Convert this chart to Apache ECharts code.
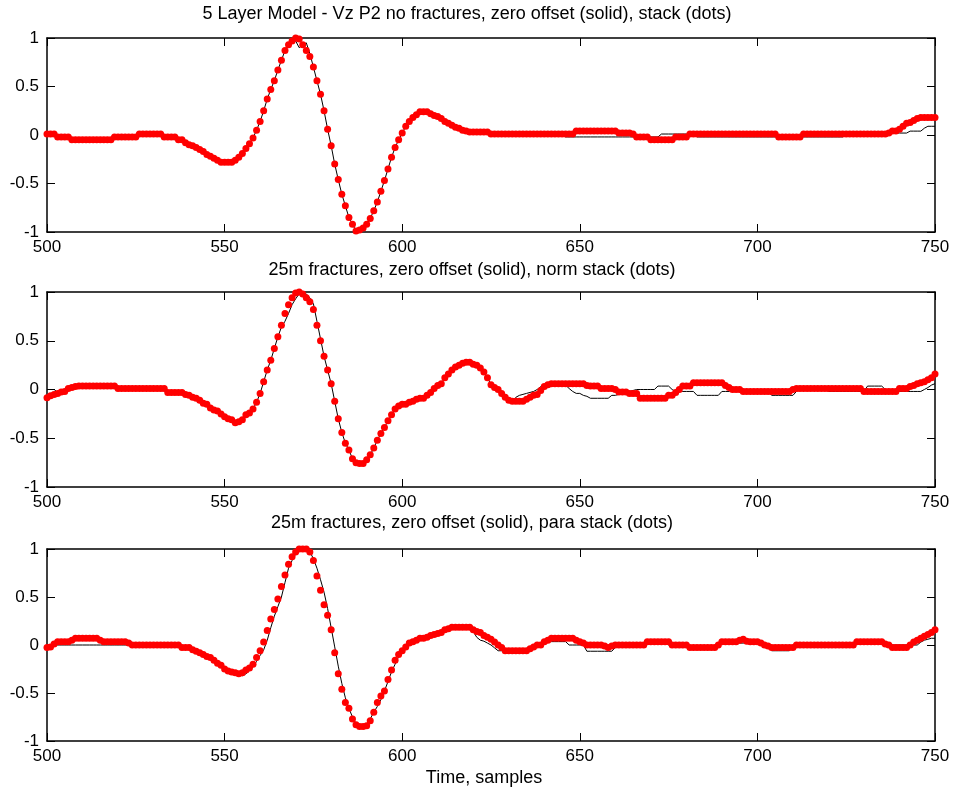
<!DOCTYPE html>
<html>
<head>
<meta charset="utf-8">
<script src="https://cdn.jsdelivr.net/npm/echarts@6/dist/echarts.min.js"></script>
<style>html,body{margin:0;padding:0;background:#fff}#c{width:956px;height:794px}</style>
</head>
<body>
<div id="c"></div>
<script>
// Sample indices 500..750 (x axis)
const samples = [];
for (let s = 500; s <= 750; s++) samples.push(s);

const titles = [
  "5 Layer Model - Vz P2 no fractures, zero offset (solid), stack (dots)",
  "25m fractures, zero offset (solid), norm stack (dots)",
  "25m fractures, zero offset (solid), para stack (dots)"
];
const xLabel = "Time, samples";
const xTicks = [500, 550, 600, 650, 700, 750];
const yTicks = [-1, -0.5, 0, 0.5, 1];

// Panel 1: zero offset (solid)
const zero1 = [
0.01,0.01,0.01,-0.02,-0.02,-0.02,-0.02,-0.05,-0.05,-0.05,
-0.05,-0.05,-0.05,-0.05,-0.05,-0.05,-0.05,-0.05,-0.05,-0.02,
-0.02,-0.02,-0.02,-0.02,-0.02,-0.02,0.01,0.01,0.01,0.01,
0.01,0.01,0.01,-0.02,-0.02,-0.02,-0.02,-0.05,-0.05,-0.08,
-0.1,-0.11,-0.13,-0.15,-0.17,-0.2,-0.22,-0.24,-0.26,-0.28,
-0.28,-0.28,-0.28,-0.26,-0.23,-0.19,-0.14,-0.09,-0.03,0.05,
0.14,0.25,0.37,0.47,0.56,0.67,0.77,0.87,0.93,0.98,
0.97,0.9,0.93,0.95,0.84,0.7,0.56,0.42,0.25,0.06,
-0.11,-0.3,-0.46,-0.61,-0.73,-0.85,-0.92,-0.99,-0.98,-0.96,
-0.92,-0.86,-0.78,-0.69,-0.58,-0.47,-0.35,-0.23,-0.13,-0.05,
0.02,0.09,0.14,0.18,0.21,0.24,0.24,0.24,0.22,0.2,
0.19,0.17,0.14,0.12,0.1,0.08,0.07,0.05,0.04,0.03,
0.03,0.03,0.03,0.03,0.03,0.01,0.01,0.01,0.01,0.01,
0.01,0.01,0.01,0.01,0.01,0.01,0.01,0.01,0.01,0.01,
0.01,0.01,0.01,0.01,0.01,0.01,-0.02,-0.02,-0.02,-0.02,
-0.02,-0.02,-0.02,-0.02,-0.02,-0.02,-0.02,-0.02,-0.02,-0.02,
-0.02,-0.02,-0.02,-0.02,-0.02,-0.02,-0.02,-0.02,-0.02,-0.02,
-0.02,-0.02,-0.02,0.01,0.01,0.01,0.01,0.01,0.01,0.01,
0.01,0.01,0.01,-0.02,-0.02,-0.02,-0.02,-0.02,-0.02,-0.02,
-0.02,-0.02,-0.02,-0.02,-0.02,-0.02,-0.02,-0.02,-0.02,-0.02,
-0.02,-0.02,-0.02,-0.02,-0.02,-0.02,-0.02,-0.02,-0.02,-0.02,
-0.02,-0.02,-0.02,-0.02,-0.02,-0.02,-0.02,-0.02,-0.02,-0.02,
-0.02,-0.02,-0.02,-0.02,-0.02,0.01,0.01,0.01,0.01,0.01,
0.01,0.01,0.01,0.01,0.01,0.01,0.01,0.01,0.02,0.02,
0.02,0.02,0.02,0.04,0.04,0.04,0.04,0.07,0.09,0.09,
0.09
];
// Panel 1: stack (dots)
const stack1 = [
0.01,0.01,0.01,-0.02,-0.02,-0.02,-0.02,-0.05,-0.05,-0.05,
-0.05,-0.05,-0.05,-0.05,-0.05,-0.05,-0.05,-0.05,-0.05,-0.02,
-0.02,-0.02,-0.02,-0.02,-0.02,-0.02,0.01,0.01,0.01,0.01,
0.01,0.01,0.01,-0.02,-0.02,-0.02,-0.02,-0.05,-0.05,-0.08,
-0.1,-0.11,-0.13,-0.15,-0.17,-0.2,-0.22,-0.24,-0.26,-0.28,
-0.28,-0.28,-0.28,-0.26,-0.23,-0.19,-0.14,-0.09,-0.03,0.05,
0.14,0.25,0.37,0.47,0.56,0.67,0.77,0.87,0.93,0.97,
1.0,0.99,0.93,0.87,0.81,0.7,0.56,0.42,0.25,0.06,
-0.11,-0.3,-0.46,-0.61,-0.73,-0.85,-0.92,-0.99,-0.98,-0.96,
-0.92,-0.86,-0.78,-0.69,-0.58,-0.47,-0.35,-0.23,-0.13,-0.05,
0.02,0.09,0.14,0.18,0.21,0.24,0.24,0.24,0.22,0.2,
0.19,0.17,0.14,0.12,0.1,0.08,0.07,0.05,0.04,0.03,
0.03,0.03,0.03,0.03,0.03,0.01,0.01,0.01,0.01,0.01,
0.01,0.01,0.01,0.01,0.01,0.01,0.01,0.01,0.01,0.01,
0.01,0.01,0.01,0.01,0.01,0.01,0.01,0.01,0.01,0.04,
0.04,0.04,0.04,0.04,0.04,0.04,0.04,0.04,0.04,0.04,
0.04,0.02,0.02,0.02,0.02,0.01,-0.02,-0.02,-0.02,-0.02,
-0.05,-0.05,-0.05,-0.05,-0.05,-0.05,-0.05,-0.02,-0.02,-0.02,
-0.02,0.01,0.01,0.01,0.01,0.01,0.01,0.01,0.01,0.01,
0.01,0.01,0.01,0.01,0.01,0.01,0.01,0.01,0.01,0.01,
0.01,0.01,0.01,0.01,0.01,0.01,-0.02,-0.02,-0.02,-0.02,
-0.02,-0.02,-0.02,0.01,0.01,0.01,0.01,0.01,0.01,0.01,
0.01,0.01,0.01,0.01,0.01,0.01,0.01,0.01,0.01,0.01,
0.01,0.01,0.01,0.01,0.01,0.01,0.01,0.02,0.04,0.04,
0.06,0.09,0.12,0.13,0.15,0.17,0.18,0.18,0.18,0.18,
0.18
];
// Panel 2: zero offset (solid)
const zero2 = [
0,0,0,-0.03,-0.025,-0.02,0.01,0.02,0.03,0.035,
0.035,0.035,0.035,0.035,0.035,0.035,0.035,0.035,0.035,0.035,
0.01,0.01,0.01,0.01,0.01,0.01,0.01,0.01,0.01,0.01,
0.01,0.01,0.01,0.01,-0.03,-0.03,-0.03,-0.03,-0.03,-0.05,
-0.06,-0.08,-0.09,-0.11,-0.14,-0.15,-0.19,-0.21,-0.22,-0.25,
-0.28,-0.3,-0.31,-0.34,-0.33,-0.31,-0.26,-0.24,-0.2,-0.13,
-0.04,0.08,0.2,0.3,0.42,0.54,0.64,0.7,0.78,0.87,
0.93,0.98,1.0,0.98,0.94,0.88,0.7,0.52,0.34,0.2,
0.06,-0.12,-0.3,-0.44,-0.55,-0.62,-0.71,-0.75,-0.76,-0.76,
-0.72,-0.67,-0.6,-0.52,-0.45,-0.39,-0.32,-0.26,-0.2,-0.17,
-0.15,-0.15,-0.13,-0.12,-0.1,-0.09,-0.09,-0.06,-0.03,0.01,
0.04,0.06,0.12,0.16,0.2,0.23,0.25,0.27,0.28,0.28,
0.26,0.25,0.22,0.18,0.12,0.05,0.02,-0.02,-0.05,-0.08,
-0.1,-0.12,-0.08,-0.06,-0.05,-0.04,-0.03,-0.02,0.0,0.03,
0.04,0.045,0.045,0.045,0.045,0.045,0.045,0.01,-0.02,-0.04,
-0.04,-0.06,-0.07,-0.09,-0.09,-0.09,-0.09,-0.09,-0.09,-0.06,
-0.06,-0.05,-0.04,-0.03,-0.02,-0.01,0.0,0.0,0.0,0.0,
0.0,0.0,0.035,0.035,0.035,0.035,0.0,-0.02,-0.02,-0.02,
-0.02,-0.02,-0.02,-0.06,-0.06,-0.06,-0.06,-0.06,-0.06,-0.06,
-0.02,-0.02,-0.02,0.0,0.0,0.0,0.0,0.0,0.0,0.0,
0.0,-0.02,-0.02,-0.02,-0.06,-0.06,-0.06,-0.06,-0.06,-0.06,
-0.06,-0.02,0.0,0.0,0.0,0.0,0.0,0.0,0.0,0.0,
-0.02,-0.02,-0.02,-0.02,-0.02,-0.02,-0.02,-0.02,-0.02,-0.02,
-0.02,0.035,0.035,0.035,0.035,0.035,0.0,-0.02,-0.02,-0.02,
-0.02,-0.02,-0.02,-0.02,-0.02,-0.02,-0.02,0.0,0.02,0.045,
0.06
];
// Panel 2: norm stack (dots)
const stack2 = [
-0.085,-0.065,-0.05,-0.04,-0.025,-0.02,0.01,0.02,0.03,0.035,
0.035,0.035,0.035,0.035,0.035,0.035,0.035,0.035,0.035,0.035,
0.01,0.01,0.01,0.01,0.01,0.01,0.01,0.01,0.01,0.01,
0.01,0.01,0.01,0.01,-0.03,-0.03,-0.03,-0.03,-0.03,-0.05,
-0.06,-0.08,-0.09,-0.11,-0.14,-0.15,-0.19,-0.21,-0.22,-0.25,
-0.28,-0.3,-0.31,-0.34,-0.33,-0.31,-0.26,-0.24,-0.2,-0.13,
-0.04,0.08,0.2,0.3,0.42,0.54,0.66,0.78,0.87,0.94,
0.99,1.0,0.98,0.94,0.9,0.82,0.66,0.5,0.34,0.2,
0.06,-0.12,-0.3,-0.44,-0.55,-0.62,-0.71,-0.75,-0.76,-0.76,
-0.72,-0.67,-0.6,-0.52,-0.45,-0.39,-0.32,-0.26,-0.2,-0.17,
-0.15,-0.15,-0.13,-0.12,-0.1,-0.09,-0.09,-0.06,-0.03,0.01,
0.04,0.06,0.12,0.16,0.2,0.23,0.25,0.27,0.28,0.28,
0.26,0.25,0.22,0.18,0.12,0.05,0.02,0.0,-0.04,-0.08,
-0.11,-0.12,-0.12,-0.12,-0.12,-0.1,-0.08,-0.06,-0.05,-0.01,
0.03,0.05,0.06,0.06,0.06,0.06,0.06,0.06,0.06,0.06,
0.06,0.06,0.04,0.035,0.035,0.035,0.01,0.01,0.01,0.01,
0.0,-0.025,-0.025,-0.025,-0.04,-0.04,-0.04,-0.09,-0.09,-0.09,
-0.09,-0.09,-0.09,-0.09,-0.09,-0.06,-0.06,-0.03,0.0,0.035,
0.035,0.035,0.07,0.07,0.07,0.07,0.07,0.07,0.07,0.07,
0.07,0.04,0.02,0.0,0.0,0.0,-0.02,-0.02,-0.02,-0.02,
-0.02,-0.02,-0.02,-0.02,-0.02,-0.02,-0.02,-0.02,-0.02,-0.02,
0.0,0.01,0.01,0.01,0.01,0.01,0.01,0.01,0.01,0.01,
0.01,0.01,0.01,0.01,0.01,0.01,0.01,0.01,0.01,0.01,
-0.02,-0.02,-0.02,-0.02,-0.02,-0.02,-0.02,-0.02,-0.02,-0.02,
0.01,0.01,0.01,0.03,0.04,0.06,0.07,0.08,0.1,0.12,
0.16
];
// Panel 3: zero offset (solid)
const zero3 = [
0,0,0,0,0,0,0,0,0,0,
0,0,0,0,0,0,0,0,0,0,
0,0,0,0,0,0,0,0,0,0,
0,0,0,0,0,0,0,0,-0.01,-0.03,
-0.04,-0.06,-0.07,-0.09,-0.11,-0.13,-0.14,-0.17,-0.2,-0.22,
-0.25,-0.27,-0.29,-0.3,-0.31,-0.32,-0.3,-0.27,-0.23,-0.17,
-0.11,-0.05,0.05,0.18,0.3,0.4,0.5,0.65,0.8,0.88,
0.95,0.99,1.0,1.0,0.97,0.9,0.8,0.68,0.55,0.38,
0.18,-0.02,-0.22,-0.4,-0.55,-0.66,-0.75,-0.82,-0.86,-0.86,
-0.83,-0.77,-0.7,-0.64,-0.57,-0.48,-0.38,-0.28,-0.2,-0.12,
-0.06,-0.02,0.0,0.03,0.05,0.06,0.07,0.08,0.1,0.1,
0.12,0.13,0.15,0.17,0.18,0.18,0.18,0.18,0.18,0.18,
0.14,0.08,0.05,0.04,0.02,0.0,-0.03,-0.06,-0.06,-0.06,
-0.06,-0.06,-0.06,-0.06,-0.06,-0.06,-0.03,-0.01,0.0,0.02,
0.03,0.035,0.035,0.035,0.035,0.035,0.035,0.0,0.0,0.0,
0.0,0.0,-0.065,-0.065,-0.065,-0.065,-0.065,-0.065,-0.065,-0.065,
-0.025,-0.025,-0.025,-0.025,-0.025,-0.025,-0.025,-0.025,0.0,0.035,
0.035,0.035,0.035,0.035,0.035,0.0,0.0,0.0,0.0,0.0,
0.0,-0.025,-0.025,-0.025,-0.025,-0.025,-0.025,-0.025,-0.025,0.0,
0.02,0.02,0.02,0.02,0.02,0.02,0.02,0.02,0.02,0.02,
0.02,0.02,0.02,-0.02,-0.06,-0.06,-0.06,-0.06,-0.06,-0.06,
-0.02,0,0,0,0,0,0,0,0,0,
0,0,0,0,0,0,0,0,0.035,0.035,
0.035,0.035,0.035,0.035,0.035,0.035,0,0,0,0,
0,0,0,0,0,0,0.03,0.05,0.06,0.07,
0.07
];
// Panel 3: para stack (dots)
const stack3 = [
-0.025,-0.02,0.01,0.035,0.035,0.035,0.035,0.05,0.07,0.07,
0.07,0.07,0.07,0.07,0.07,0.05,0.035,0.035,0.035,0.035,
0.035,0.035,0.035,0.02,0.0,0.0,0.0,0.0,0.0,0.0,
0.0,0.0,0.0,0.0,0.0,0.0,0.0,0.0,-0.025,-0.025,
-0.025,-0.05,-0.065,-0.08,-0.1,-0.12,-0.13,-0.16,-0.19,-0.21,
-0.25,-0.27,-0.28,-0.29,-0.3,-0.29,-0.26,-0.24,-0.2,-0.13,
-0.06,0.03,0.15,0.27,0.37,0.48,0.61,0.73,0.84,0.92,
0.97,1.0,1.0,1.0,0.97,0.88,0.72,0.57,0.42,0.31,
0.16,-0.08,-0.3,-0.46,-0.6,-0.66,-0.77,-0.83,-0.85,-0.85,
-0.84,-0.79,-0.7,-0.6,-0.53,-0.48,-0.36,-0.26,-0.16,-0.1,
-0.06,-0.02,0.02,0.035,0.05,0.07,0.07,0.08,0.1,0.11,
0.12,0.13,0.16,0.17,0.185,0.185,0.185,0.185,0.185,0.185,
0.16,0.14,0.13,0.1,0.08,0.06,0.03,0.0,-0.025,-0.06,
-0.06,-0.06,-0.06,-0.06,-0.06,-0.06,-0.04,-0.02,0.0,0.0,
0.035,0.05,0.07,0.07,0.07,0.07,0.07,0.07,0.07,0.05,
0.035,0.02,0.0,0.0,0.0,0.0,0.0,-0.01,-0.025,-0.01,
0,0,0,0,0,0,0,0,0,0.035,
0.035,0.035,0.035,0.035,0.035,0.035,0,0,0,0,
0,-0.025,-0.025,-0.025,-0.025,-0.025,-0.025,-0.025,-0.025,0,
0.035,0.035,0.035,0.035,0.035,0.05,0.06,0.04,0.035,0.035,
0.035,0.02,0.0,-0.01,-0.025,-0.025,-0.025,-0.025,-0.025,-0.025,
-0.025,0,0,0,0,0,0,0,0,0,
0,0,0,0,0,0,0,0,0.035,0.035,
0.035,0.035,0.035,0.035,0.035,0.035,0.01,0,-0.025,-0.025,
-0.025,-0.025,-0.025,0,0.03,0.05,0.07,0.09,0.11,0.13,
0.16
];

const solids = [zero1, zero2, zero3];
const dots = [stack1, stack2, stack3];

const FONT = "'Liberation Sans', Arial, Helvetica, sans-serif";
const gridTops = [38, 292, 549];
const gridHeights = [194, 195, 192];

const grid = [], xAxis = [], yAxis = [], series = [], title = [];
const axisLine = { show: true, onZero: false, lineStyle: { color: '#000', width: 1.5 } };
const tick = { show: true, inside: true, length: 8, lineStyle: { color: '#000', width: 1 } };

for (let i = 0; i < 3; i++) {
  grid.push({ left: 47, right: 21, top: gridTops[i], height: gridHeights[i] });
  const xb = { gridIndex: i, type: 'value', min: xTicks[0], max: xTicks[xTicks.length - 1], interval: 50,
    position: 'bottom', axisLine, axisTick: tick, splitLine: { show: false },
    axisLabel: { color: '#000', fontSize: 17, fontFamily: FONT, margin: 7 } };
  const xt = Object.assign({}, xb, { position: 'top', axisLabel: { show: false } });
  xAxis.push(xb, xt);
  const yl = { gridIndex: i, type: 'value', min: yTicks[0], max: yTicks[yTicks.length - 1], interval: 0.5,
    position: 'left', axisLine, axisTick: tick, splitLine: { show: false },
    axisLabel: { color: '#000', fontSize: 17, fontFamily: FONT, margin: 8 } };
  const yr = Object.assign({}, yl, { position: 'right', axisLabel: { show: false } });
  yAxis.push(yl, yr);

  series.push({
    type: 'line', xAxisIndex: 2 * i, yAxisIndex: 2 * i,
    data: samples.map((s, k) => [s, solids[i][k]]),
    showSymbol: false, symbol: 'none', lineStyle: { color: '#000', width: 1 }, z: 2, silent: true
  });
  series.push({
    type: 'scatter', xAxisIndex: 2 * i, yAxisIndex: 2 * i,
    data: samples.map((s, k) => [s, dots[i][k]]),
    symbolSize: 7, itemStyle: { color: '#ff0000', opacity: 1 }, z: 3, silent: true
  });
}

const titleCenters = [467, 472, 472];
const titleTops = [5, 261, 514];
for (let i = 0; i < 3; i++) {
  title.push({ text: titles[i], left: titleCenters[i], top: titleTops[i], textAlign: 'center', padding: 0,
    textStyle: { fontSize: 18, fontWeight: 'normal', color: '#000', fontFamily: FONT } });
}
title.push({ text: xLabel, left: 484, top: 769, textAlign: 'center', padding: 0,
  textStyle: { fontSize: 18, fontWeight: 'normal', color: '#000', fontFamily: FONT } });

const chart = echarts.init(document.getElementById('c'), null, { renderer: 'canvas' });
chart.setOption({ animation: false, backgroundColor: '#fff', title, grid, xAxis, yAxis, series });
</script>
</body>
</html>
